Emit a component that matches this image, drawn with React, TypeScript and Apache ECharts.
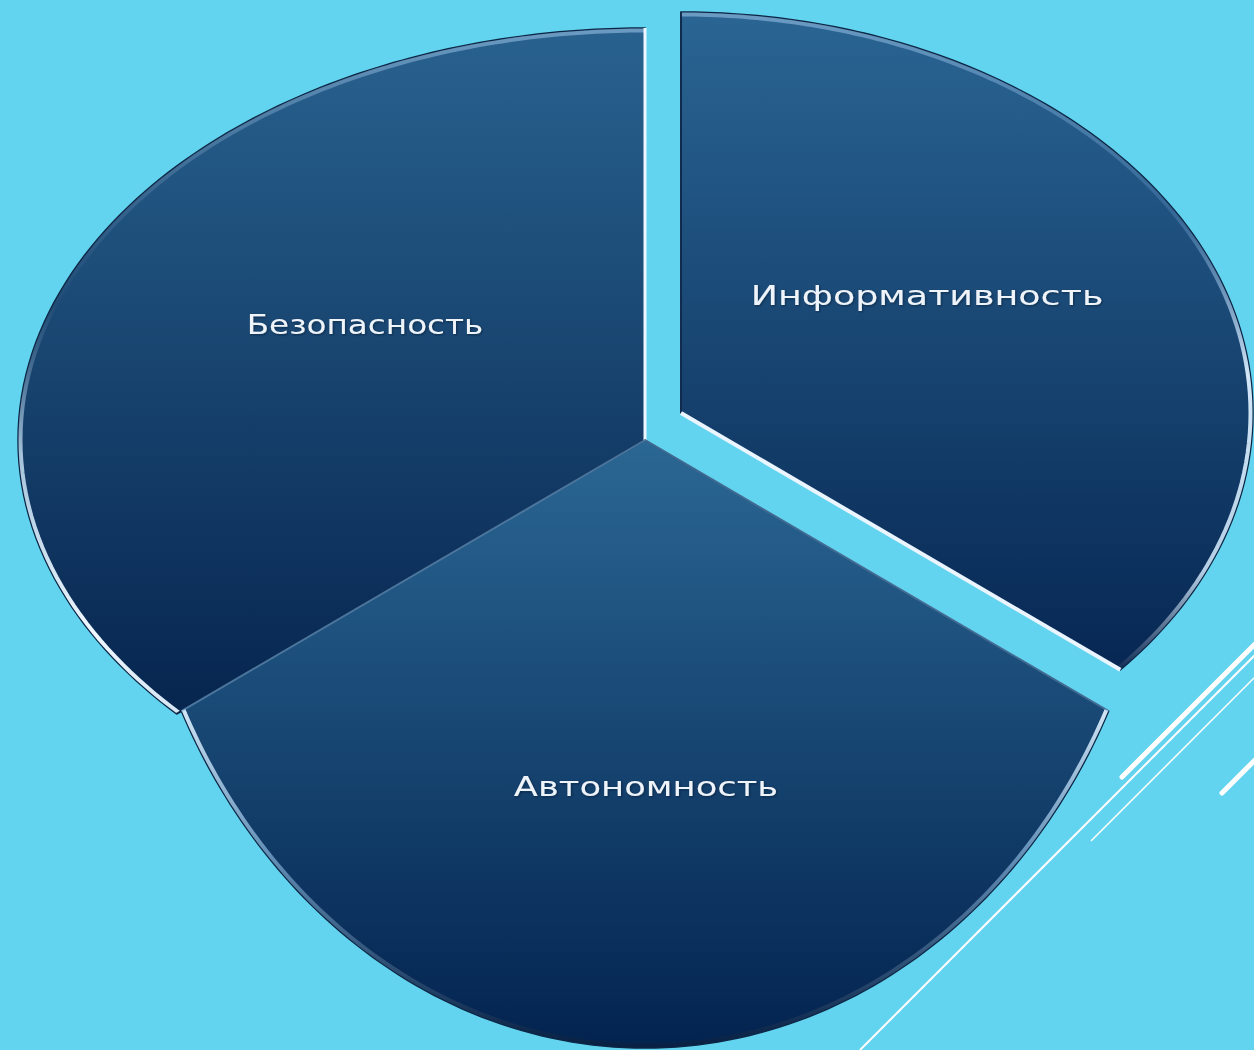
import React, { useEffect, useRef } from "react";
import * as echarts from "echarts";

// ---- data ----
const categories = ["Информативность", "Автономность", "Безопасность"];
const values = [1, 1, 1];
const START_ANGLE = -90; // first slice starts at 12 o'clock, clockwise

// ---- layout / style (not data) ----
const PERSPECTIVE = { a: 485, b: 491, q: 0.192 };

const sliceLayout = [
  {
    cx: 681, cy: 413, rx: 572, ry: 401, label: [927, 296], labelScale: 1.35, z: 1,
    top: "#2a6593", bottom: "#072753",
    arcStops: [
      [0, "rgba(160,200,235,0.55)"], [0.3, "rgba(90,140,190,0.35)"],
      [0.55, "rgba(220,240,255,0.95)"], [0.85, "rgba(210,234,252,0.85)"], [1, "rgba(20,45,85,0.9)"],
    ],
    edgeStart: { color: "rgba(15,40,75,0.9)", width: 2 },
    edgeEnd: { color: "#eaf5ff", width: 4 },
  },
  {
    cx: 645, cy: 440, rx: 518, ry: 608, label: [646, 787], labelScale: 1.31, z: 3,
    top: "#2b6794", bottom: "#03234f",
    arcStops: [
      [0, "rgba(220,238,252,0.95)"], [0.45, "rgba(150,195,232,0.6)"], [1, "rgba(10,30,60,0.6)"],
    ],
    edgeStart: { color: "rgba(110,160,205,0.55)", width: 2 },
    edgeEnd: { color: "rgba(120,170,215,0.6)", width: 2 },
  },
  {
    cx: 645, cy: 440, rx: 627, ry: 412, label: [365, 325], labelScale: 1.21, z: 2,
    top: "#29628f", bottom: "#06254f",
    arcStops: [
      [0, "rgba(160,200,235,0.55)"], [0.4, "rgba(40,80,120,0.35)"],
      [0.62, "rgba(200,228,248,0.8)"], [0.88, "rgba(240,248,255,1)"], [1, "rgba(225,240,252,0.95)"],
    ],
    edgeStart: { color: "rgba(10,30,60,0.9)", width: 2 },
    edgeEnd: { color: "#eef7ff", width: 3 },
  },
];

function direction(theta: number): [number, number] {
  const r = (theta * Math.PI) / 180;
  const s = Math.sin(r);
  const c = Math.cos(r);
  const w = 1 - PERSPECTIVE.q * s;
  return [(PERSPECTIVE.a * c) / w, (PERSPECTIVE.b * s) / w];
}

function rim(L: any, theta: number, inset = 0): [number, number] {
  const [dx, dy] = direction(theta);
  const rx = L.rx - inset;
  const ry = L.ry - inset;
  const k = 1 / Math.sqrt((dx / rx) ** 2 + (dy / ry) ** 2);
  return [L.cx + dx * k, L.cy + dy * k];
}

export default function App() {
  const ref = useRef<HTMLDivElement>(null);

  useEffect(() => {
    document.body.style.margin = "0";
    if (!ref.current) return;
    const chart = echarts.init(ref.current, undefined, { renderer: "svg" });
    const total = values.reduce((a, b) => a + b, 0);

    const renderItem = (params: any, api: any) => {
      const i = params.dataIndex;
      const L = sliceLayout[i];
      let before = 0;
      for (let j = 0; j < i; j++) before += values[j];
      const v = api.value(0) as number;
      const a0 = START_ANGLE + (360 * before) / total;
      const a1 = a0 + (360 * v) / total;
      const N = 120;
      const arc: number[][] = [];
      const inner: number[][] = [];
      for (let k = 0; k <= N; k++) {
        const t = a0 + ((a1 - a0) * k) / N;
        arc.push(rim(L, t));
        inner.push(rim(L, t, 2.5));
      }
      const apex = [L.cx, L.cy];
      const pts = [apex, ...arc];
      return {
        type: "group",
        children: [
          {
            type: "polygon",
            z2: L.z * 10,
            shape: { points: pts },
            style: {
              fill: new echarts.graphic.LinearGradient(0, 0, 0, 1, [
                { offset: 0, color: L.top },
                { offset: 1, color: L.bottom },
              ]),
              stroke: "#0c2746",
              lineWidth: 1.5,
            },
          },
          {
            type: "polyline",
            z2: L.z * 10 + 1,
            shape: { points: inner },
            style: {
              fill: null,
              stroke: new echarts.graphic.LinearGradient(
                0, 0, 0, 1,
                L.arcStops.map((s: any) => ({ offset: s[0], color: s[1] }))
              ),
              lineWidth: 4,
            },
          },
          {
            type: "line",
            z2: L.z * 10 + 2,
            shape: { x1: apex[0], y1: apex[1], x2: arc[0][0], y2: arc[0][1] },
            style: { stroke: L.edgeStart.color, lineWidth: L.edgeStart.width },
          },
          {
            type: "line",
            z2: L.z * 10 + 2,
            shape: { x1: apex[0], y1: apex[1], x2: arc[N][0], y2: arc[N][1] },
            style: { stroke: L.edgeEnd.color, lineWidth: L.edgeEnd.width },
          },
          {
            type: "text",
            z2: L.z * 10 + 5,
            x: L.label[0],
            y: L.label[1],
            scaleX: L.labelScale,
            style: {
              text: categories[i],
              fill: "#eef4fa",
              fontSize: 27,
              fontFamily: "DejaVu Sans",
              align: "center",
              verticalAlign: "middle",
              textShadowColor: "rgba(0,10,30,0.5)",
              textShadowBlur: 2,
              textShadowOffsetX: 1,
              textShadowOffsetY: 1,
            },
          },
        ],
      };
    };

    chart.setOption({
      animation: false,
      backgroundColor: "#63d4ef",
      graphic: [
        { type: "line", shape: { x1: 1122, y1: 777, x2: 1262, y2: 637 }, style: { stroke: "#ffffff", lineWidth: 5, lineCap: "round" } },
        { type: "line", shape: { x1: 860, y1: 1050, x2: 1262, y2: 648 }, style: { stroke: "#ffffff", lineWidth: 2 } },
        { type: "line", shape: { x1: 1091, y1: 841, x2: 1262, y2: 670 }, style: { stroke: "#ffffff", lineWidth: 1.5 } },
        { type: "line", shape: { x1: 1222, y1: 793, x2: 1262, y2: 753 }, style: { stroke: "#ffffff", lineWidth: 5, lineCap: "round" } },
      ],
      series: [
        {
          type: "custom",
          coordinateSystem: "none",
          renderItem,
          data: values.map((v) => [v]),
        },
      ],
    });
    return () => chart.dispose();
  }, []);

  return <div ref={ref} style={{ width: 1254, height: 1050, background: "#63d4ef" }} />;
}
